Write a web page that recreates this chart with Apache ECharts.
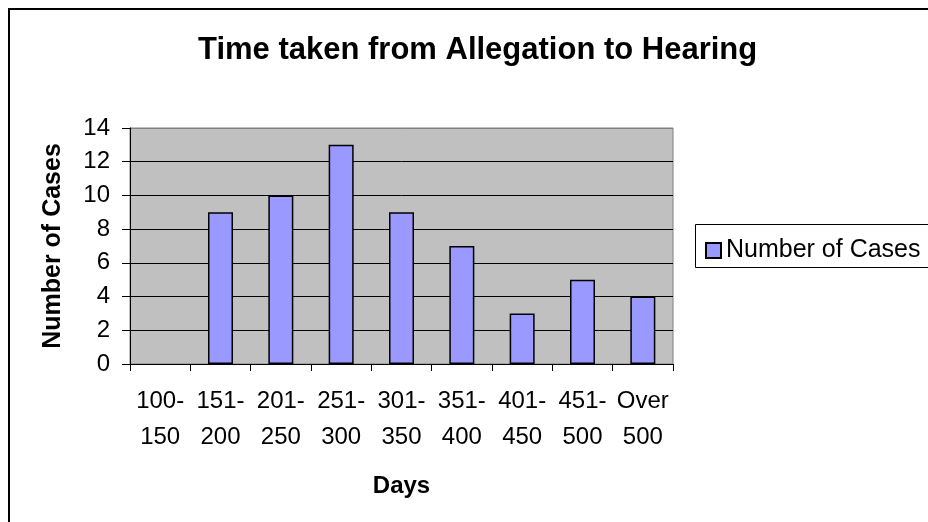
<!DOCTYPE html>
<html>
<head>
<meta charset="utf-8">
<script src="https://cdn.jsdelivr.net/npm/echarts@6/dist/echarts.min.js"></script>
<style>html,body{margin:0;padding:0;background:#fff}#c{width:928px;height:522px}</style>
</head>
<body>
<div id="c"></div>
<script>
var categories = ['100-\n150','151-\n200','201-\n250','251-\n300','301-\n350','351-\n400','401-\n450','451-\n500','Over\n500'];
var cases = [0, 9, 10, 13, 9, 7, 3, 5, 4];
var yTicks = {min: 0, max: 14, interval: 2};
var F = 'Arial, "Liberation Sans", sans-serif';
var barData = cases.map(function (v) { return v === 0 ? {value: v, itemStyle: {borderWidth: 0}} : v; });
var chart = echarts.init(document.getElementById('c'), null, {renderer: 'canvas'});
chart.setOption({
  animation: false,
  backgroundColor: '#fff',
  graphic: [
    {type: 'rect', z: -10, shape: {x: 9, y: 9, width: 960, height: 560}, style: {fill: 'none', stroke: '#000', lineWidth: 2}},
    {type: 'rect', z: -5, shape: {x: 695.5, y: 224.5, width: 300, height: 43}, style: {fill: '#fff', stroke: '#000', lineWidth: 1}}
  ],
  title: {
    text: 'Time taken from Allegation to Hearing',
    left: 193, top: 30,
    textStyle: {fontFamily: F, fontSize: 31, fontWeight: 'bold', color: '#000'}
  },
  legend: {
    data: ['Number of Cases'],
    left: 700, top: 233,
    icon: 'rect', itemWidth: 15, itemHeight: 15, itemGap: 6,
    textStyle: {fontFamily: F, fontSize: 25, color: '#000'}
  },
  grid: {left: 130, top: 128, width: 543, height: 236, show: true, backgroundColor: '#C0C0C0', borderColor: '#808080', borderWidth: 1},
  xAxis: {
    type: 'category', data: categories,
    name: 'Days', nameLocation: 'middle', nameGap: 110,
    nameTextStyle: {fontFamily: F, fontSize: 24, fontWeight: 'bold', color: '#000'},
    axisLine: {lineStyle: {color: '#000', width: 1}},
    axisTick: {show: true, length: 7, lineStyle: {color: '#000'}},
    axisLabel: {fontFamily: F, fontSize: 24, color: '#000', lineHeight: 36, margin: 19, interval: 0}
  },
  yAxis: {
    type: 'value', min: yTicks.min, max: yTicks.max, interval: yTicks.interval,
    name: 'Number of Cases', nameLocation: 'middle', nameGap: 64, nameRotate: 90,
    nameTextStyle: {fontFamily: F, fontSize: 25, fontWeight: 'bold', color: '#000'},
    axisLine: {show: true, lineStyle: {color: '#000', width: 1}},
    axisTick: {show: true, length: 8, lineStyle: {color: '#000'}},
    axisLabel: {fontFamily: F, fontSize: 24, color: '#000', margin: 20},
    splitLine: {show: true, lineStyle: {color: ['#000','#000','#000','#000','#000','#000','#000','#808080'], width: 1}}
  },
  series: [{
    name: 'Number of Cases', type: 'bar', data: barData, barWidth: 25,
    itemStyle: {color: '#9999FF', borderColor: '#000', borderWidth: 1.5}
  }]
});
</script>
</body>
</html>
